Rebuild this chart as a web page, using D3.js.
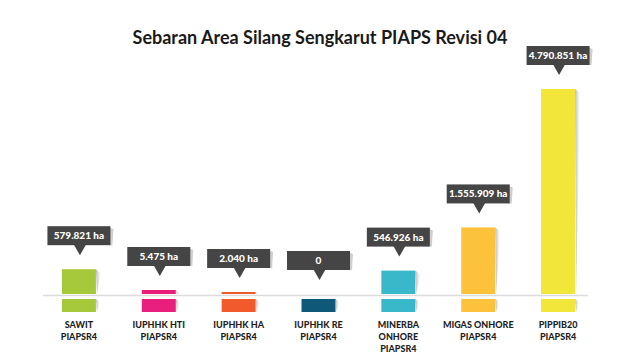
<!DOCTYPE html>
<html>
<head>
<meta charset="utf-8">
<script src="https://cdn.jsdelivr.net/npm/d3@7"></script>
<style>
  body { margin: 0; background: #fff; }
  svg { display: block; font-family: Lato, "Open Sans", sans-serif; }
</style>
</head>
<body>
<div id="chart"></div>
<script>
// data
var categories = ["SAWIT", "IUPHHK HTI", "IUPHHK HA", "IUPHHK RE", "MINERBA", "MIGAS", "PIPPIB20"];
var labelLines = [
    ["SAWIT", "PIAPSR4"],
    ["IUPHHK HTI", "PIAPSR4"],
    ["IUPHHK HA", "PIAPSR4"],
    ["IUPHHK RE", "PIAPSR4"],
    ["MINERBA", "ONHORE", "PIAPSR4"],
    ["MIGAS ONHORE", "PIAPSR4"],
    ["PIPPIB20", "PIAPSR4"]
];
var values = [579821, 5475, 2040, 0, 546926, 1555909, 4790851];
var valueLabels = ["579.821 ha", "5.475 ha", "2.040 ha", "0", "546.926 ha", "1.555.909 ha", "4.790.851 ha"];
var colors = ["#a5c93a", "#ea1f7d", "#f15a2b", "#0f5878", "#3ab8cb", "#fdc23c", "#f2e63a"];

var width = 640, height = 360;
var svg = d3.select("#chart").append("svg")
    .attr("width", width)
    .attr("height", height);

var defs = svg.append("defs");
var grad = defs.append("linearGradient")
    .attr("id", "shade")
    .attr("x1", 0).attr("x2", 1).attr("y1", 0).attr("y2", 0);
grad.append("stop").attr("offset", 0).attr("stop-color", "#888").attr("stop-opacity", 0.6);
grad.append("stop").attr("offset", 1).attr("stop-color", "#bbb").attr("stop-opacity", 0);

var baseY = 294;
var x = d3.scaleBand().domain(categories).range([39, 598]);
var y = d3.scaleLinear().domain([0, d3.max(values)]).range([baseY, 89]);
var barW = 34;

var rows = categories.map(function (c, i) {
    return { cat: c, value: values[i], label: valueLabels[i], lines: labelLines[i], color: colors[i] };
});

// title
svg.append("text")
    .attr("x", 320).attr("y", 44)
    .attr("text-anchor", "middle")
    .style("font-size", "18px")
    .style("font-weight", "bold")
    .attr("fill", "#1a1a1a")
    .text("Sebaran Area Silang Sengkarut PIAPS Revisi 04");

// baseline
svg.append("line")
    .attr("x1", 43).attr("x2", 588)
    .attr("y1", baseY + 1.5).attr("y2", baseY + 1.5)
    .attr("stroke", "#dcdcdc")
    .attr("stroke-width", 1.5);

var g = svg.selectAll(".bar")
    .data(rows)
    .enter()
    .append("g")
    .attr("class", "bar");

function cx(d) { return x(d.cat) + x.bandwidth() / 2; }
// very small values still get a visible sliver
function barTop(d) { return d.value > 0 ? Math.min(y(d.value), baseY - (d.value > 5000 ? 4 : 2)) : baseY; }

// shadow on the right of each bar
g.filter(function (d) { return d.value > 0; })
    .append("path")
    .attr("fill", "url(#shade)")
    .attr("d", function (d) {
        var x1 = cx(d) + barW / 2, top = barTop(d), h = baseY - top;
        return "M" + x1 + "," + top + "L" + (x1 + Math.min(5, h)) + "," + (top + Math.min(4, h)) +
            "L" + (x1 + 1) + "," + baseY + "Z";
    });

// bars above the baseline
g.append("rect")
    .attr("x", function (d) { return cx(d) - barW / 2; })
    .attr("y", barTop)
    .attr("width", barW)
    .attr("height", function (d) { return baseY - barTop(d); })
    .attr("fill", function (d) { return d.color; });

// stubs below the baseline
g.append("path")
    .attr("fill", "url(#shade)")
    .attr("d", function (d) {
        var x1 = cx(d) + barW / 2;
        return "M" + x1 + ",299L" + (x1 + 4) + ",302L" + (x1 + 1) + ",312Z";
    });
g.append("rect")
    .attr("x", function (d) { return cx(d) - barW / 2; })
    .attr("y", 299)
    .attr("width", barW)
    .attr("height", 13)
    .attr("fill", function (d) { return d.color; });

// callouts
var boxW = 63, boxH = 19, tipH = 10, gap = 14;
var callout = g.append("g")
    .attr("transform", function (d) {
        var tipY = (d.value > 0 ? barTop(d) : baseY) - gap;
        return "translate(" + (cx(d) + 1) + "," + tipY + ")";
    });

callout.append("path")
    .attr("fill", "#cfcfcf")
    .attr("d", "M" + (boxW / 2 - 3) + "," + (-tipH - boxH + 1) + "L" + (boxW / 2 + 2) + "," + (-tipH - boxH + 3) +
        "L" + (boxW / 2 + 1) + "," + (-tipH) + "L" + (boxW / 2 - 3) + "," + (-tipH) + "Z");
callout.append("rect")
    .attr("x", -boxW / 2 - 1)
    .attr("y", -tipH - boxH)
    .attr("width", boxW)
    .attr("height", boxH)
    .attr("fill", "#454545");
callout.append("path")
    .attr("fill", "#454545")
    .attr("d", "M-6," + (-tipH - 0.5) + "L6," + (-tipH - 0.5) + "L0,0Z");
callout.append("text")
    .attr("x", -1)
    .attr("y", -tipH - boxH / 2 + 3.5)
    .attr("text-anchor", "middle")
    .attr("fill", "#fff")
    .style("font-size", "10px")
    .style("font-weight", "900")
    .text(function (d) { return d.label; });

// category labels
g.append("text")
    .attr("text-anchor", "middle")
    .attr("fill", "#1f1f1f")
    .style("font-size", "9px")
    .style("font-weight", "900")
    .selectAll("tspan")
    .data(function (d) { return d.lines.map(function (l) { return { t: l, x: cx(d) }; }); })
    .enter()
    .append("tspan")
    .attr("x", function (d) { return d.x; })
    .attr("y", function (d, i) { return 328 + i * 12; })
    .text(function (d) { return d.t; });
</script>
</body>
</html>
